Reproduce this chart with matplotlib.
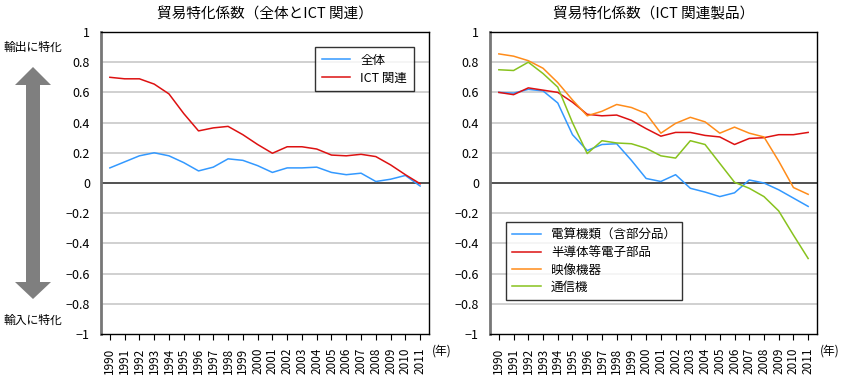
import numpy as np
import matplotlib.pyplot as plt
from matplotlib.patches import Polygon

plt.rcParams['font.family'] = ['Noto Sans CJK JP', 'DejaVu Sans']

years = [str(y) for y in range(1990, 2012)]

# left panel
zentai = [0.10, 0.14, 0.18, 0.20, 0.18, 0.135, 0.08, 0.105, 0.16, 0.15, 0.115,
          0.07, 0.10, 0.10, 0.105, 0.07, 0.055, 0.065, 0.01, 0.025, 0.05, -0.02]
ict = [0.70, 0.69, 0.69, 0.655, 0.59, 0.46, 0.345, 0.365, 0.375, 0.32, 0.255,
       0.197, 0.24, 0.24, 0.225, 0.185, 0.18, 0.19, 0.175, 0.12, 0.055, -0.005]

# right panel
densan = [0.60, 0.595, 0.62, 0.61, 0.53, 0.32, 0.215, 0.255, 0.26, 0.15, 0.03,
          0.01, 0.055, -0.035, -0.06, -0.09, -0.065, 0.02, 0.0, -0.045, -0.10, -0.155]
handotai = [0.60, 0.585, 0.63, 0.615, 0.60, 0.535, 0.455, 0.445, 0.45, 0.415, 0.36,
            0.31, 0.335, 0.335, 0.315, 0.305, 0.255, 0.295, 0.30, 0.32, 0.32, 0.335]
eizo = [0.855, 0.84, 0.81, 0.76, 0.665, 0.55, 0.445, 0.475, 0.52, 0.50, 0.46,
        0.33, 0.395, 0.435, 0.405, 0.33, 0.37, 0.33, 0.305, 0.145, -0.03, -0.075]
tsushin = [0.75, 0.745, 0.80, 0.725, 0.635, 0.40, 0.195, 0.28, 0.265, 0.26, 0.23,
           0.18, 0.165, 0.28, 0.255, 0.13, 0.005, -0.035, -0.09, -0.185, -0.345, -0.50]

BLUE = '#3399ff'
RED = '#dd1111'
ORANGE = '#ff8c1a'
GREEN = '#88c21e'

W, H = 846, 376
fig = plt.figure(figsize=(W / 100, H / 100), dpi=100)


def px(x, y):
    return (x / W, 1 - y / H)


def setup(ax, title):
    x = np.arange(len(years))
    ax.set_xlim(-0.6, len(years) - 0.4)
    ax.set_ylim(-1, 1)
    ax.set_yticks(np.arange(-1, 1.01, 0.2))
    ax.set_yticklabels(['−1', '−0.8', '−0.6', '−0.4', '−0.2', '0',
                        '0.2', '0.4', '0.6', '0.8', '1'], fontsize=9)
    ax.set_xticks(x)
    ax.set_xticklabels(years, rotation=90, fontsize=8.5)
    ax.tick_params(axis='y', length=0, pad=8)
    ax.tick_params(axis='x', length=4, direction='out', pad=6)
    for yv in np.arange(-0.8, 0.81, 0.2):
        if abs(yv) > 1e-6:
            ax.axhline(yv, color='#c8c8c8', lw=1.2, zorder=0)
    ax.axhline(0, color='#333333', lw=1.2, zorder=1)
    for s in ['top', 'right', 'bottom']:
        ax.spines[s].set_color('black')
        ax.spines[s].set_linewidth(1)
    ax.spines['left'].set_color('#777777')
    ax.spines['left'].set_linewidth(2)
    ax.set_title(title, fontsize=10.5, pad=10)
    ax.text(1.01, -0.035, '(年)', transform=ax.transAxes, fontsize=8.5,
            ha='left', va='top')
    return x


ax1 = fig.add_axes([101 / W, 42 / H, 328 / W, 302 / H])
x = setup(ax1, '貿易特化係数（全体とICT 関連）')
ax1.plot(x, zentai, color=BLUE, lw=1.1, label='全体')
ax1.plot(x, ict, color=RED, lw=1.1, label='ICT 関連')
leg = ax1.legend(loc='upper right', bbox_to_anchor=(0.972, 0.97), fontsize=9,
                 fancybox=False, edgecolor='black', handlelength=2.3,
                 borderpad=0.5, labelspacing=0.4)
leg.get_frame().set_linewidth(1)

ax2 = fig.add_axes([490 / W, 42 / H, 327 / W, 302 / H])
x = setup(ax2, '貿易特化係数（ICT 関連製品）')
ax2.plot(x, densan, color=BLUE, lw=1.1, label='電算機類（含部分品）')
ax2.plot(x, handotai, color=RED, lw=1.1, label='半導体等電子部品')
ax2.plot(x, eizo, color=ORANGE, lw=1.1, label='映像機器')
ax2.plot(x, tsushin, color=GREEN, lw=1.1, label='通信機')
leg = ax2.legend(loc='upper left', bbox_to_anchor=(0.03, 0.39), fontsize=9,
                 fancybox=False, edgecolor='black', handlelength=2.3,
                 borderpad=0.5, labelspacing=0.35)
leg.get_frame().set_linewidth(1)

# double arrow in left margin
cx = 33
shaft = 7
head = 18
pts = [(cx, 67), (cx + head, 85), (cx + shaft, 85), (cx + shaft, 282),
       (cx + head, 282), (cx, 299), (cx - head, 282), (cx - shaft, 282),
       (cx - shaft, 85), (cx - head, 85)]
fig.patches.append(Polygon([px(a, b) for a, b in pts], closed=True,
                           transform=fig.transFigure, facecolor='#7f7f7f',
                           edgecolor='none'))
fig.text(*px(33, 47), '輸出に特化', ha='center', va='center', fontsize=8.5)
fig.text(*px(33, 320), '輸入に特化', ha='center', va='center', fontsize=8.5)

fig.savefig('out.png', dpi=100)
